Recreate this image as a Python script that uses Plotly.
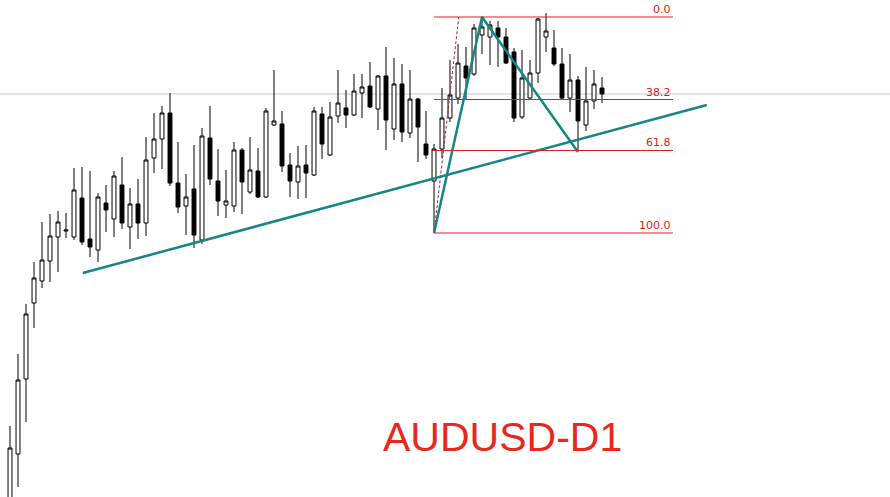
import plotly.graph_objects as go

# ---- data ----
idx = list(range(75))
opens = [0.7480,0.7546,0.7621,0.7697,0.7719,0.7739,0.7763,0.7769,0.7763,0.7802,
         0.7761,0.7750,0.7797,0.7781,0.7815,0.7773,0.7796,0.7777,0.7842,0.7861,
         0.7887,0.7817,0.7794,0.7811,0.7760,0.7862,0.7819,0.7795,0.7794,0.7850,
         0.7808,0.7829,0.7803,0.7875,0.7876,0.7835,0.7818,0.7835,0.7825,0.7886,
         0.7845,0.7884,0.7892,0.7885,0.7907,0.7914,0.7891,0.7924,0.7871,0.7916,
         0.7867,0.7901,0.7856,0.7819,0.7851,0.7882,0.7902,0.7934,0.7926,0.7965,
         0.7963,0.7972,0.7963,0.7948,0.7883,0.7902,0.7927,0.7963,0.7952,0.7936,
         0.7902,0.7920,0.7875,0.7899,0.7912]
highs = [0.7574,0.7646,0.7696,0.7738,0.7778,0.7786,0.7789,0.7787,0.7832,0.7833,
         0.7829,0.7807,0.7815,0.7829,0.7843,0.7812,0.7821,0.7863,0.7887,0.7894,
         0.7907,0.7858,0.7826,0.7855,0.7872,0.7894,0.7851,0.7830,0.7858,0.7852,
         0.7863,0.7852,0.7892,0.7930,0.7889,0.7847,0.7854,0.7855,0.7893,0.7893,
         0.7898,0.7930,0.7910,0.7926,0.7926,0.7938,0.7925,0.7953,0.7942,0.7936,
         0.7930,0.7902,0.7889,0.7856,0.7912,0.7940,0.7956,0.7953,0.7976,0.7983,
         0.7979,0.7979,0.7972,0.7952,0.7950,0.7940,0.7982,0.7987,0.7970,0.7952,
         0.7946,0.7924,0.7933,0.7930,0.7923]
lows = [0.7470,0.7513,0.7578,0.7672,0.7712,0.7718,0.7728,0.7762,0.7760,0.7755,
        0.7743,0.7738,0.7768,0.7763,0.7771,0.7751,0.7761,0.7764,0.7827,0.7831,
        0.7814,0.7787,0.7765,0.7752,0.7756,0.7815,0.7784,0.7782,0.7788,0.7786,
        0.7806,0.7802,0.7802,0.7874,0.7828,0.7803,0.7801,0.7802,0.7824,0.7841,
        0.7844,0.7877,0.7872,0.7884,0.7882,0.7892,0.7870,0.7850,0.7860,0.7858,
        0.7862,0.7838,0.7841,0.7767,0.7842,0.7878,0.7896,0.7900,0.7924,0.7946,
        0.7935,0.7933,0.7936,0.7878,0.7881,0.7901,0.7917,0.7948,0.7934,0.7901,
        0.7888,0.7849,0.7869,0.7891,0.7897]
closes = [0.7552,0.7620,0.7686,0.7722,0.7740,0.7764,0.7778,0.7770,0.7810,0.7758,
          0.7753,0.7803,0.7790,0.7824,0.7777,0.7796,0.7777,0.7840,0.7861,0.7887,
          0.7817,0.7793,0.7803,0.7765,0.7864,0.7821,0.7799,0.7799,0.7850,0.7818,
          0.7830,0.7803,0.7889,0.7879,0.7834,0.7819,0.7834,0.7827,0.7889,0.7856,
          0.7883,0.7897,0.7885,0.7909,0.7913,0.7893,0.7924,0.7880,0.7916,0.7868,
          0.7901,0.7873,0.7845,0.7851,0.7882,0.7905,0.7937,0.7922,0.7972,0.7973,
          0.7975,0.7963,0.7937,0.7882,0.7922,0.7927,0.7981,0.7969,0.7936,0.7902,
          0.7920,0.7879,0.7899,0.7916,0.7906]

fib_ratios = [0.0, 0.382, 0.618, 1.0]
fib_labels = ["0.0", "38.2", "61.8", "100.0"]
fib_high = 0.7983
fib_low = 0.7767
fib_x = [53, 82.875]

trend_x = [9.1, 87.1]
trend_y = [0.7727, 0.7895]

zigzag_x = [53, 59, 71]
zigzag_y = [0.7767, 0.7983, 0.7848]

dash_x = [53, 56.1]
dash_y = [0.7767, 0.7983]

price_line = 0.7906
title_text = "AUDUSD-D1"
title_pos = (61.5, 0.7563)

# ---- figure ----
fig = go.Figure()
fig.add_trace(go.Candlestick(
    x=idx, open=opens, high=highs, low=lows, close=closes,
    increasing=dict(line=dict(color="black", width=1), fillcolor="white"),
    decreasing=dict(line=dict(color="black", width=1), fillcolor="black"),
    whiskerwidth=0, showlegend=False, hoverinfo="skip"))

# price line
fig.add_shape(type="line", xref="paper", x0=0, x1=1, yref="y",
              y0=price_line, y1=price_line, line=dict(color="#c8c8c8", width=1), layer="below")

# fib levels
fib_color = "#d42222"
for r, lab in zip(fib_ratios, fib_labels):
    lvl = fib_high - (fib_high - fib_low) * r
    fig.add_shape(type="line", x0=fib_x[0], x1=fib_x[1], y0=lvl, y1=lvl,
                  line=dict(color=fib_color, width=1))
    fig.add_annotation(x=fib_x[1], y=lvl, text=lab, showarrow=False,
                       xanchor="right", yanchor="bottom", yshift=-1,
                       font=dict(family="DejaVu Sans", size=11, color=fib_color))

fig.add_trace(go.Scatter(x=dash_x, y=dash_y, mode="lines",
                         line=dict(color="#a02828", width=1, dash="3px,2px"),
                         showlegend=False, hoverinfo="skip"))

teal = "#178585"
fig.add_trace(go.Scatter(x=trend_x, y=trend_y, mode="lines",
                         line=dict(color=teal, width=2.5), showlegend=False, hoverinfo="skip"))
fig.add_trace(go.Scatter(x=zigzag_x, y=zigzag_y, mode="lines",
                         line=dict(color=teal, width=2.5), showlegend=False, hoverinfo="skip"))

fig.add_annotation(x=title_pos[0], y=title_pos[1], text=title_text, showarrow=False,
                   xanchor="center", yanchor="middle",
                   font=dict(family="Liberation Sans, Arial", size=41, color="#e8281e"))

fig.update_layout(
    width=890, height=497, margin=dict(l=0, r=0, t=0, b=0),
    paper_bgcolor="white", plot_bgcolor="white",
    xaxis=dict(range=[-1.25, 110], visible=False, rangeslider=dict(visible=False),
               showgrid=False, zeroline=False),
    yaxis=dict(range=[0.7503, 0.8000], visible=False, showgrid=False, zeroline=False),
    showlegend=False,
)
fig.write_html("out.html", config={"displayModeBar": False},
               post_script="document.body.style.margin='0';document.body.style.overflow='hidden';")
